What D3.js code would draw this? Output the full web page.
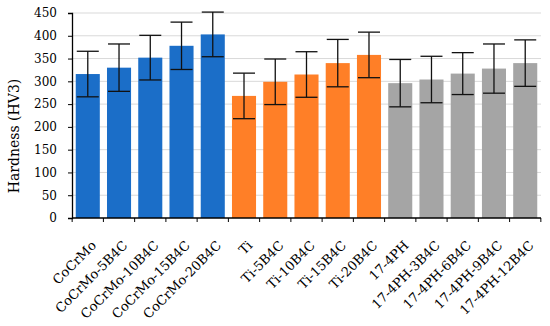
<!DOCTYPE html>
<html>
<head>
<meta charset="utf-8">
<script src="https://cdn.jsdelivr.net/npm/d3@7"></script>
<style>
  body { margin: 0; background: #fff; }
  text { font-family: "DejaVu Serif", serif; fill: #000; }
</style>
</head>
<body>
<div id="chart"></div>
<script>
// sample names, mean hardness and error bar half-width
const samples = ["CoCrMo", "CoCrMo-5B4C", "CoCrMo-10B4C", "CoCrMo-15B4C", "CoCrMo-20B4C",
  "Ti", "Ti-5B4C", "Ti-10B4C", "Ti-15B4C", "Ti-20B4C",
  "17-4PH", "17-4PH-3B4C", "17-4PH-6B4C", "17-4PH-9B4C", "17-4PH-12B4C"];
const hardness = [316, 330, 352, 378, 403, 268, 299, 315, 340, 358, 296, 304, 317, 328, 340];
const errors = [50, 52, 49, 52, 49, 50, 50, 50, 52, 50, 52, 51, 46, 54, 51];
const groups = ["CoCrMo", "CoCrMo", "CoCrMo", "CoCrMo", "CoCrMo",
  "Ti", "Ti", "Ti", "Ti", "Ti",
  "17-4PH", "17-4PH", "17-4PH", "17-4PH", "17-4PH"];
const yTicks = [0, 50, 100, 150, 200, 250, 300, 350, 400, 450];

const width = 550, height = 326;
const margin = {top: 13, right: 9, bottom: 108, left: 72};

const svg = d3.select("#chart").append("svg")
  .attr("width", width)
  .attr("height", height);

const x = d3.scaleBand()
  .domain(samples)
  .range([margin.left, width - margin.right])
  .paddingInner(0.23)
  .paddingOuter(0.12);

const y = d3.scaleLinear()
  .domain([0, 450])
  .range([height - margin.bottom, margin.top]);

const color = d3.scaleOrdinal()
  .domain(["CoCrMo", "Ti", "17-4PH"])
  .range(["#1b6ec8", "#ff7f27", "#a5a5a5"]);

// gridlines
svg.append("g")
  .selectAll("line")
  .data(yTicks.filter(d => d > 0))
  .join("line")
  .attr("x1", margin.left)
  .attr("x2", width - margin.right)
  .attr("y1", d => y(d))
  .attr("y2", d => y(d))
  .attr("stroke", "#d9d9d9")
  .attr("stroke-width", 1);

// bars
svg.append("g")
  .selectAll("rect")
  .data(samples)
  .join("rect")
  .attr("x", d => x(d))
  .attr("y", (d, i) => y(hardness[i]))
  .attr("width", x.bandwidth())
  .attr("height", (d, i) => y(0) - y(hardness[i]))
  .attr("fill", (d, i) => color(groups[i]));

// error bars
const capW = 11;
const eb = svg.append("g").attr("stroke", "#111").attr("stroke-width", 1.3);
samples.forEach((s, i) => {
  const cx = x(s) + x.bandwidth() / 2;
  const hi = y(hardness[i] + errors[i]);
  const lo = y(hardness[i] - errors[i]);
  eb.append("line").attr("x1", cx).attr("x2", cx).attr("y1", hi).attr("y2", lo);
  eb.append("line").attr("x1", cx - capW).attr("x2", cx + capW).attr("y1", hi).attr("y2", hi);
  eb.append("line").attr("x1", cx - capW).attr("x2", cx + capW).attr("y1", lo).attr("y2", lo);
});

// y axis
const yAxis = svg.append("g")
  .attr("transform", `translate(${margin.left},0)`)
  .call(d3.axisLeft(y).tickValues(yTicks).tickSize(4).tickPadding(11));
yAxis.select(".domain").attr("stroke", "#000").attr("stroke-width", 1.3);
yAxis.selectAll(".tick line").attr("stroke", "#000");
yAxis.selectAll("text").style("font-size", "12px");

// x axis: ticks sit between bars
const xBase = y(0);
const step = x.step();
const edges = d3.range(samples.length + 1).map(i => x(samples[0]) - x.paddingInner() * step / 2 + i * step);
const xg = svg.append("g");
xg.append("line")
  .attr("x1", margin.left)
  .attr("x2", width - margin.right)
  .attr("y1", xBase)
  .attr("y2", xBase)
  .attr("stroke", "#000")
  .attr("stroke-width", 1.3);
xg.selectAll(".tk")
  .data(edges)
  .join("line")
  .attr("class", "tk")
  .attr("x1", d => d)
  .attr("x2", d => d)
  .attr("y1", xBase)
  .attr("y2", xBase + 4)
  .attr("stroke", "#000");
xg.selectAll("text")
  .data(samples)
  .join("text")
  .attr("transform", d => `translate(${x(d) + x.bandwidth() / 2 + 6},${xBase + 25}) rotate(-45)`)
  .attr("text-anchor", "end")
  .attr("dy", "0.35em")
  .style("font-size", "13px")
  .text(d => d);

// y title
svg.append("text")
  .attr("transform", `translate(19,136) rotate(-90)`)
  .attr("text-anchor", "middle")
  .style("font-size", "14px")
  .text("Hardness (HV3)");
</script>
</body>
</html>
